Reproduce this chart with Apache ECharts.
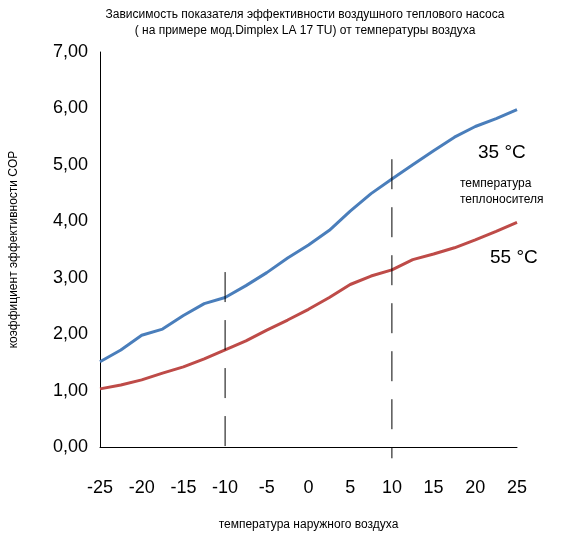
<!DOCTYPE html><html><head><meta charset="utf-8"><script src="https://cdn.jsdelivr.net/npm/echarts@6/dist/echarts.min.js"></script></head><body style="margin:0"><div id="c" style="width:567px;height:536px"></div><script>
const temps=[-25,-22.5,-20,-17.5,-15,-12.5,-10,-7.5,-5,-2.5,0,2.5,5,7.5,10,12.5,15,17.5,20,22.5,25];
const cop35=[1.51,1.72,1.98,2.09,2.33,2.54,2.65,2.86,3.09,3.35,3.58,3.84,4.18,4.49,4.75,5.0,5.25,5.49,5.68,5.82,5.98];
const cop55=[1.03,1.10,1.19,1.31,1.42,1.56,1.72,1.88,2.07,2.25,2.44,2.65,2.88,3.03,3.14,3.32,3.42,3.53,3.67,3.82,3.98];
const markX=[-10,10];
const markTop=[3.1,5.1];
const ch=echarts.init(document.getElementById('c'));
const dash=(x,top)=>({type:'line',data:[[x,top],[x,-0.2]],symbol:'none',clip:false,silent:true,lineStyle:{color:'#000',width:1,type:[30,18]}});
ch.setOption({animation:false,
title:{text:'Зависимость показателя эффективности воздушного теплового насоса\n( на примере мод.Dimplex LA 17 TU) от температуры воздуха',left:300,top:2,textAlign:'center',textStyle:{fontSize:12,fontWeight:'normal',color:'#000',lineHeight:16,fontFamily:'Arial'}},
grid:{left:97,right:50,top:52,bottom:85},
xAxis:{type:'value',min:-25,max:25,interval:5,name:'температура наружного воздуха',nameLocation:'middle',nameGap:72,nameTextStyle:{fontSize:12,color:'#000'},axisLine:{onZero:false,lineStyle:{color:'#000'}},axisTick:{show:false},splitLine:{show:false},axisLabel:{fontSize:18,color:'#000',margin:32}},
yAxis:{type:'value',min:0,max:7,interval:1,name:'коэффициент эффективности COP',nameLocation:'middle',nameGap:80,nameTextStyle:{fontSize:12,color:'#000'},axisLine:{show:true,onZero:false,lineStyle:{color:'#000'}},axisTick:{show:false},splitLine:{show:false},axisLabel:{fontSize:18,color:'#000',margin:12,formatter:v=>v.toFixed(2).replace('.',',')}},
series:[
{type:'line',data:temps.map((t,i)=>[t,cop35[i]]),symbol:'none',lineStyle:{color:'#4a7ebb',width:3}},
{type:'line',data:temps.map((t,i)=>[t,cop55[i]]),symbol:'none',lineStyle:{color:'#be4b48',width:3}},
dash(markX[0],markTop[0]),dash(markX[1],markTop[1])],
graphic:[
{type:'text',left:478,top:143,style:{text:'35 °C',fontSize:19,fill:'#000'}},
{type:'text',left:460,top:176,style:{text:'температура\nтеплоносителя',fontSize:12,fill:'#000',lineHeight:16}},
{type:'text',left:490,top:248,style:{text:'55 °C',fontSize:19,fill:'#000'}}]});
</script></body></html>
